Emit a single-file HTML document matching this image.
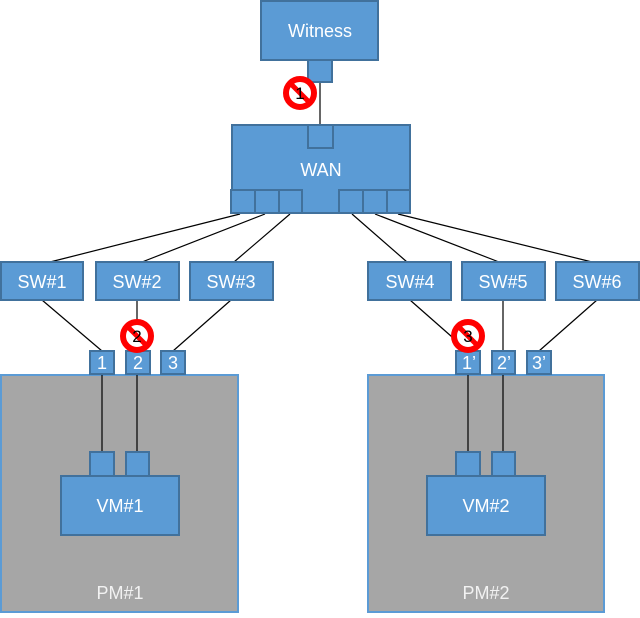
<!DOCTYPE html>
<html><head><style>body{margin:0;background:#fff}svg{display:block}</style></head><body>
<svg width="640" height="618" xmlns="http://www.w3.org/2000/svg" font-family="Liberation Sans, sans-serif">
<defs>
<g id="s">
<circle cx="0" cy="0" r="14" fill="#fff" stroke="#f00" stroke-width="6"/>
<line x1="-10" y1="-10" x2="10" y2="10" stroke="#f00" stroke-width="5"/>
</g>
</defs>
<g stroke="#000" stroke-width="1.2">
<line x1="320" y1="82" x2="320" y2="125"/>
<line x1="240" y1="214" x2="50" y2="262"/>
<line x1="265" y1="214" x2="142" y2="262"/>
<line x1="290" y1="214" x2="234" y2="262"/>
<line x1="352" y1="214" x2="407" y2="262"/>
<line x1="375" y1="214" x2="499" y2="262"/>
<line x1="398" y1="214" x2="592" y2="262"/>
<line x1="42" y1="300" x2="102" y2="351"/>
<line x1="137" y1="300" x2="137" y2="351"/>
<line x1="231" y1="300" x2="173" y2="351"/>
<line x1="410" y1="300" x2="468" y2="351"/>
<line x1="503" y1="300" x2="503" y2="351"/>
<line x1="597" y1="300" x2="539" y2="351"/>
</g>
<rect x="1" y="375" width="237" height="237" fill="#a6a6a6" stroke="#5b9bd5" stroke-width="2"/>
<rect x="368" y="375" width="236" height="237" fill="#a6a6a6" stroke="#5b9bd5" stroke-width="2"/>
<g stroke="#000" stroke-width="1.2">
<line x1="102" y1="374" x2="102" y2="452"/>
<line x1="137" y1="374" x2="137" y2="452"/>
<line x1="468" y1="374" x2="468" y2="452"/>
<line x1="503" y1="374" x2="503" y2="452"/>
</g>
<g fill="#5b9bd5" stroke="#41719c" stroke-width="2">
<rect x="261" y="1" width="117" height="59"/>
<rect x="308" y="60" width="24" height="22"/>
<rect x="232" y="125" width="178" height="88"/>
<rect x="308" y="125" width="25" height="23"/>
<rect x="231" y="190" width="24" height="23"/><rect x="255" y="190" width="24" height="23"/><rect x="279" y="190" width="23" height="23"/>
<rect x="339" y="190" width="24" height="23"/><rect x="363" y="190" width="24" height="23"/><rect x="387" y="190" width="23" height="23"/>
<rect x="1" y="262" width="82" height="38"/><rect x="96" y="262" width="83" height="38"/><rect x="190" y="262" width="83" height="38"/>
<rect x="368" y="262" width="83" height="38"/><rect x="462" y="262" width="83" height="38"/><rect x="556" y="262" width="83" height="38"/>
<rect x="90" y="351" width="24" height="23"/><rect x="126" y="351" width="24" height="23"/><rect x="161" y="351" width="24" height="23"/>
<rect x="456" y="351" width="24" height="23"/><rect x="492" y="351" width="23" height="23"/><rect x="527" y="351" width="24" height="23"/>
<rect x="90" y="452" width="24" height="24"/><rect x="126" y="452" width="23" height="24"/><rect x="61" y="476" width="118" height="59"/>
<rect x="456" y="452" width="24" height="24"/><rect x="492" y="452" width="23" height="24"/><rect x="427" y="476" width="118" height="59"/>
</g>
<g fill="#fff" font-size="18" text-anchor="middle">
<text x="320" y="37">Witness</text>
<text x="321" y="176">WAN</text>
<text x="42" y="288">SW#1</text><text x="137" y="288">SW#2</text><text x="231" y="288">SW#3</text>
<text x="410" y="288">SW#4</text><text x="503" y="288">SW#5</text><text x="597" y="288">SW#6</text>
<text x="120" y="512">VM#1</text><text x="486" y="512">VM#2</text>
<text x="120" y="599" fill="#f2f2f2">PM#1</text><text x="486" y="599" fill="#f2f2f2">PM#2</text>
<text x="102" y="369">1</text><text x="138" y="369">2</text><text x="173" y="369">3</text>
<text x="469" y="369">1’</text><text x="504" y="369">2’</text><text x="539" y="369">3’</text>
</g>
<use href="#s" x="300" y="93"/><use href="#s" x="137" y="336"/><use href="#s" x="468" y="336"/>
<g font-size="17" text-anchor="middle" fill="#000">
<text x="300" y="99">1</text><text x="137" y="342">2</text><text x="468" y="342">3</text>
</g>
</svg>
</body></html>
